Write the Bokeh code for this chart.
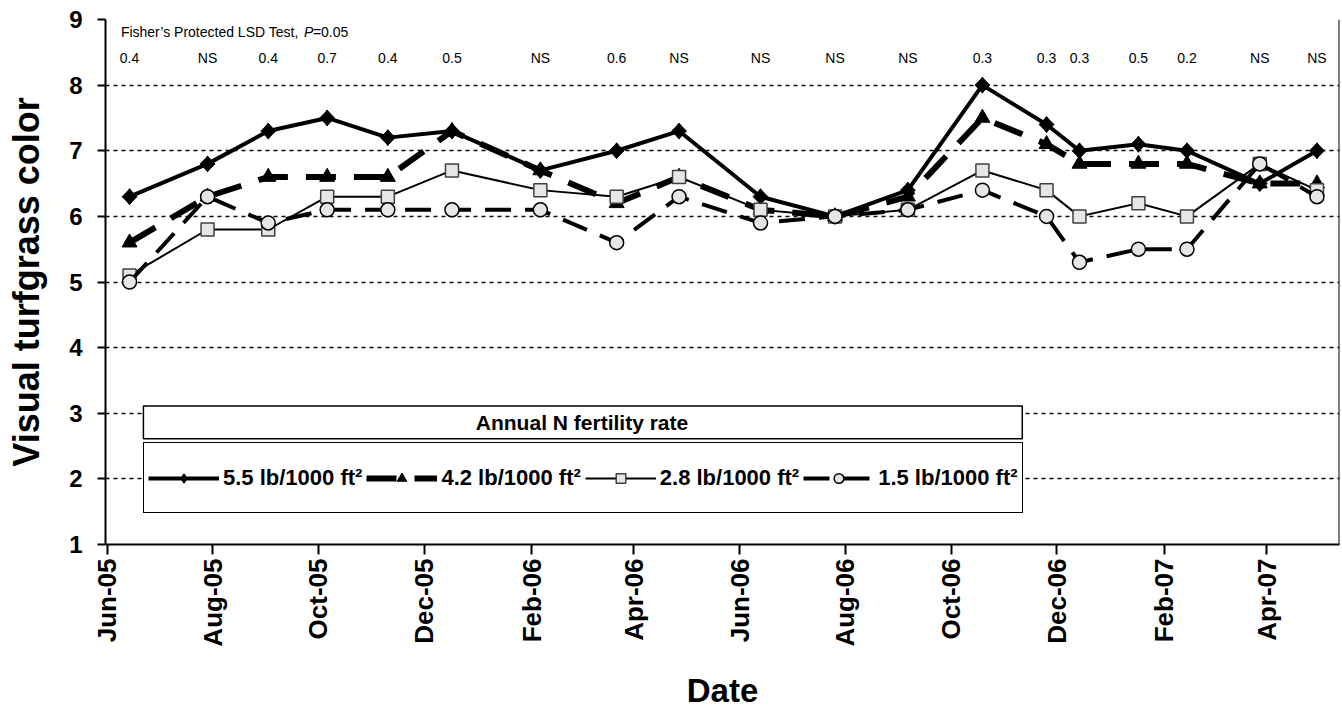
import numpy as np
import pandas as pd
from bokeh.plotting import figure
from bokeh.models import (FixedTicker, DatetimeTickFormatter, Range1d, Legend,
                          LegendItem, BoxAnnotation, Label, Span, ColumnDataSource)
from bokeh.core.properties import value
from bokeh.embed import file_html
from bokeh.resources import INLINE

# ---------------- data ----------------
sample_dates = ["2005-06-14", "2005-07-29", "2005-09-02", "2005-10-06", "2005-11-10",
                "2005-12-17", "2006-02-06", "2006-03-22", "2006-04-27", "2006-06-13",
                "2006-07-26", "2006-09-06", "2006-10-19", "2006-11-25", "2006-12-14",
                "2007-01-17", "2007-02-14", "2007-03-28", "2007-04-30"]
rate_5_5 = [6.3, 6.8, 7.3, 7.5, 7.2, 7.3, 6.7, 7.0, 7.3, 6.3, 6.0, 6.4, 8.0, 7.4, 7.0, 7.1, 7.0, 6.5, 7.0]
rate_4_2 = [5.6, 6.3, 6.6, 6.6, 6.6, 7.3, 6.7, 6.2, 6.6, 6.1, 6.0, 6.3, 7.5, 7.1, 6.8, 6.8, 6.8, 6.5, 6.5]
rate_2_8 = [5.1, 5.8, 5.8, 6.3, 6.3, 6.7, 6.4, 6.3, 6.6, 6.1, 6.0, 6.1, 6.7, 6.4, 6.0, 6.2, 6.0, 6.8, 6.4]
rate_1_5 = [5.0, 6.3, 5.9, 6.1, 6.1, 6.1, 6.1, 5.6, 6.3, 5.9, 6.0, 6.1, 6.4, 6.0, 5.3, 5.5, 5.5, 6.8, 6.3]
lsd_values = ["0.4", "NS", "0.4", "0.7", "0.4", "0.5", "NS", "0.6", "NS", "NS", "NS", "NS",
              "0.3", "0.3", "0.3", "0.5", "0.2", "NS", "NS"]
series_labels = ["5.5 lb/1000 ft²", "4.2 lb/1000 ft²", "2.8 lb/1000 ft²", "1.5 lb/1000 ft²"]
tick_dates = ["2005-06-01", "2005-08-01", "2005-10-01", "2005-12-01", "2006-02-01",
              "2006-04-01", "2006-06-01", "2006-08-01", "2006-10-01", "2006-12-01",
              "2007-02-01", "2007-04-01"]
y_ticks = [1, 2, 3, 4, 5, 6, 7, 8, 9]


def ms(d):
    return pd.Timestamp(d).value / 1e6


FONT = "Liberation Sans"

src = ColumnDataSource(dict(x=pd.to_datetime(sample_dates), r55=rate_5_5, r42=rate_4_2,
                            r28=rate_2_8, r15=rate_1_5, lsd=lsd_values))

x_start = ms("2005-05-31 03:00")
x_end = ms("2007-05-13")

p = figure(width=1340, height=717, x_axis_type="datetime",
           x_range=Range1d(x_start, x_end), y_range=Range1d(1, 9),
           output_backend="svg", toolbar_location=None,
           min_border_left=105, min_border_right=1, min_border_top=19, min_border_bottom=173)
p.outline_line_color = None
p.background_fill_color = "white"
p.border_fill_color = "white"

# axes
p.xaxis.ticker = FixedTicker(ticks=[ms(d) for d in tick_dates])
fmt = "%b-%y"
p.xaxis.formatter = DatetimeTickFormatter(months=fmt, days=fmt, years=fmt, hours=fmt,
                                          minutes=fmt, seconds=fmt, milliseconds=fmt,
                                          microseconds=fmt, hourmin=fmt, minsec=fmt)
p.xaxis.major_label_orientation = np.pi / 2
p.yaxis.ticker = FixedTicker(ticks=y_ticks)

for ax in (p.xaxis, p.yaxis):
    ax.axis_line_color = "black"
    ax.axis_line_width = 2
    ax.major_tick_line_color = "black"
    ax.major_tick_line_width = 2
    ax.minor_tick_line_color = None
    ax.major_tick_in = 0
    ax.major_label_text_font = FONT
    ax.major_label_text_font_style = "bold"
    ax.major_label_text_color = "black"
    ax.axis_label_text_font = FONT
    ax.axis_label_text_font_style = "bold"
    ax.axis_label_text_color = "black"

p.xaxis.major_tick_out = 10
p.xaxis.major_label_standoff = 4
p.xaxis.major_label_text_font_size = "26px"
p.xaxis.axis_label = "Date"
p.xaxis.axis_label_text_font_size = "33px"
p.xaxis.axis_label_standoff = 22

p.yaxis.major_tick_out = 8
p.yaxis.major_label_standoff = 15
p.yaxis.major_label_text_font_size = "24px"
p.yaxis.axis_label = "Visual turfgrass color"
p.yaxis.axis_label_text_font_size = "36px"
p.yaxis.axis_label_standoff = 19

p.xgrid.grid_line_color = None
p.ygrid.grid_line_color = "black"
p.ygrid.grid_line_dash = "4 4"
p.ygrid.grid_line_width = 1.5

p.add_layout(Span(location=x_end, dimension="height", line_color="black", line_width=2))

# series
l1 = p.line("x", "r55", source=src, line_color="black", line_width=4)
m1_key = p.scatter("x", "r55", source=src, marker="diamond", size=16,
                   fill_color="black", line_color="black")
m1 = p.scatter("x", "r55", source=src, marker="square", angle=np.pi / 4, size=10.5,
               fill_color="black", line_color="black")
l2 = p.line("x", "r42", source=src, line_color="black", line_width=6, line_dash="30 18")
m2 = p.scatter("x", "r42", source=src, marker="triangle", size=15,
               fill_color="black", line_color="black")
l3 = p.line("x", "r28", source=src, line_color="black", line_width=2)
m3 = p.scatter("x", "r28", source=src, marker="square", size=13,
               fill_color="#e6e6e6", line_color="#404040", line_width=1.5)
l4 = p.line("x", "r15", source=src, line_color="black", line_width=4, line_dash="26 14")
m4 = p.scatter("x", "r15", source=src, marker="circle", size=14,
               fill_color="#e6e6e6", line_color="black", line_width=1.5)

# LSD annotations
p.text("x", 8.41, text="lsd", source=src, text_align="center", text_baseline="middle",
       text_font=value(FONT), text_font_size="14px", text_color="black")

fx = ms("2005-06-09")
common = dict(text_font=FONT, text_font_size="14px", text_baseline="middle",
              text_align="left", text_color="black")
p.add_layout(Label(x=fx, y=8.81, text="Fisher’s Protected LSD Test, ", **common))
p.add_layout(Label(x=fx, y=8.81, x_offset=183, text="P", text_font_style="italic", **common))
p.add_layout(Label(x=fx, y=8.81, x_offset=192, text="=0.05", **common))

# legend title box
p.add_layout(BoxAnnotation(left=ms("2005-06-22"), right=ms("2006-11-11"), bottom=2.61, top=3.11,
                           fill_color="white", fill_alpha=1, line_color="black",
                           line_width=1.5, line_alpha=1))
p.add_layout(Label(x=ms("2006-03-02"), y=2.86, text="Annual N fertility rate", text_font=FONT,
                   text_font_size="21px", text_font_style="bold", text_align="center",
                   text_baseline="middle", text_color="black"))

legend = Legend(items=[LegendItem(label=series_labels[0], renderers=[l1, m1_key]),
                       LegendItem(label=series_labels[1], renderers=[l2, m2]),
                       LegendItem(label=series_labels[2], renderers=[l3, m3]),
                       LegendItem(label=series_labels[3], renderers=[l4, m4])],
                orientation="horizontal", location=(38, 31),
                label_text_font=FONT, label_text_font_style="bold",
                label_text_font_size="22px", label_text_color="black",
                glyph_width=71, glyph_height=24,
                label_height=61, label_standoff=4, spacing=4, padding=4, margin=0,
                border_line_color="black", border_line_width=1.5, border_line_alpha=1,
                background_fill_color="white", background_fill_alpha=1)
p.add_layout(legend)

open("out.html", "w").write(file_html(p, INLINE))
